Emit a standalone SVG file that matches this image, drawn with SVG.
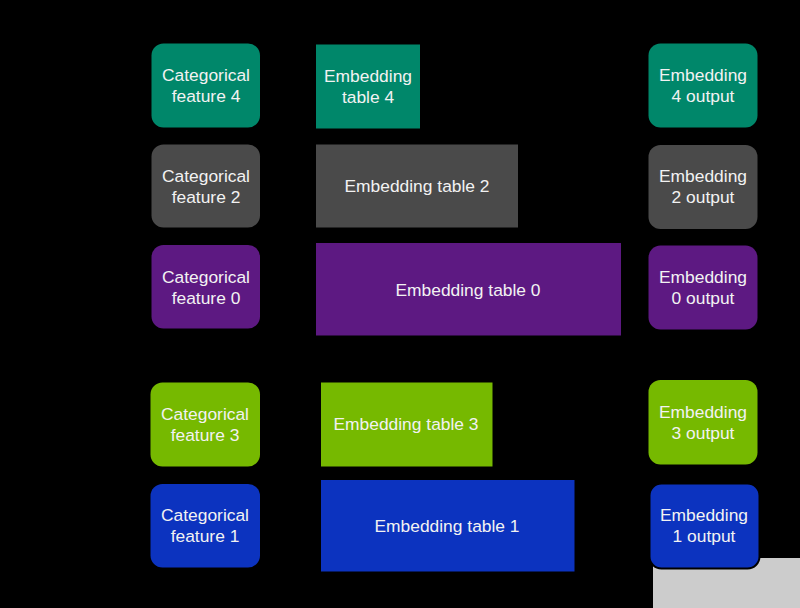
<svg xmlns="http://www.w3.org/2000/svg" width="800" height="608" viewBox="0 0 800 608">
<defs>
<style>
text{font-family:"Liberation Sans",Arial,sans-serif;font-size:17.4px;fill:#f2f2f2;text-anchor:middle}
.teal{fill:#00876a}.gray{fill:#4a4a4a}.purple{fill:#5d1982}.lime{fill:#76b900}.blue{fill:#0c33bf}
.conn{stroke:#000;stroke-width:1.5;fill:none;marker-end:url(#ah)}
</style>
<marker id="ah" markerWidth="8" markerHeight="8" refX="7" refY="4" orient="auto" markerUnits="userSpaceOnUse"><path d="M0,0 L8,4 L0,8 z" fill="#000"/></marker>
</defs>
<rect width="800" height="608" fill="#000"/>
<rect x="653" y="558" width="147" height="50" fill="#cccccc"/>
<g id="connectors">
<line class="conn" x1="260" y1="86" x2="316" y2="86"/>
<line class="conn" x1="420" y1="86" x2="648" y2="86"/>
<line class="conn" x1="260" y1="186" x2="316" y2="186"/>
<line class="conn" x1="518" y1="186" x2="648" y2="186"/>
<line class="conn" x1="260" y1="287" x2="316" y2="287"/>
<line class="conn" x1="621" y1="290" x2="649" y2="290"/>
<line class="conn" x1="260" y1="424" x2="321" y2="424"/>
<line class="conn" x1="492" y1="424" x2="648" y2="424"/>
<line class="conn" x1="260" y1="526" x2="321" y2="526"/>
<line class="conn" x1="574" y1="526" x2="649" y2="526"/>
</g>
<g id="feature4"><rect class="teal" x="151.5" y="43.5" width="108.5" height="84" rx="12"/><text x="206" y="81">Categorical</text><text x="206" y="102">feature 4</text></g>
<g id="table4"><rect class="teal" x="316" y="44.5" width="104" height="84"/><text x="368" y="82">Embedding</text><text x="368" y="103">table 4</text></g>
<g id="output4"><rect class="teal" x="648.5" y="43.5" width="109" height="84" rx="12"/><text x="703" y="81">Embedding</text><text x="703" y="102">4 output</text></g>

<g id="feature2"><rect class="gray" x="151.5" y="144.5" width="108.5" height="83" rx="12"/><text x="206" y="182">Categorical</text><text x="206" y="203">feature 2</text></g>
<g id="table2"><rect class="gray" x="316" y="144.5" width="202" height="83"/><text x="417" y="192">Embedding table 2</text></g>
<g id="output2"><rect class="gray" x="648.5" y="145" width="109" height="84" rx="12"/><text x="703" y="182">Embedding</text><text x="703" y="203">2 output</text></g>

<g id="feature0"><rect class="purple" x="151.5" y="245" width="108.5" height="83.5" rx="12"/><text x="206" y="283">Categorical</text><text x="206" y="304">feature 0</text></g>
<g id="table0"><rect class="purple" x="316" y="243" width="305" height="92.5"/><text x="468" y="296">Embedding table 0</text></g>
<g id="output0"><rect class="purple" x="648.5" y="245.5" width="109" height="84" rx="12"/><text x="703" y="283">Embedding</text><text x="703" y="304">0 output</text></g>

<g id="feature3"><rect class="lime" x="150.5" y="382.5" width="109.5" height="84" rx="12"/><text x="205" y="420">Categorical</text><text x="205" y="441">feature 3</text></g>
<g id="table3"><rect class="lime" x="321" y="382.5" width="171.5" height="84"/><text x="406" y="430">Embedding table 3</text></g>
<g id="output3"><rect class="lime" x="648.5" y="380" width="109" height="84.5" rx="12"/><text x="703" y="418">Embedding</text><text x="703" y="439">3 output</text></g>

<g id="feature1"><rect class="blue" x="150.5" y="484" width="109.5" height="83.5" rx="12"/><text x="205" y="521">Categorical</text><text x="205" y="542">feature 1</text></g>
<g id="table1"><rect class="blue" x="321" y="480" width="253.5" height="91.5"/><text x="447" y="532">Embedding table 1</text></g>
<g id="output1"><rect class="blue" x="649.5" y="483.5" width="110" height="85" rx="12" stroke="#000" stroke-width="2"/><text x="704" y="521">Embedding</text><text x="704" y="542">1 output</text></g>
</svg>
